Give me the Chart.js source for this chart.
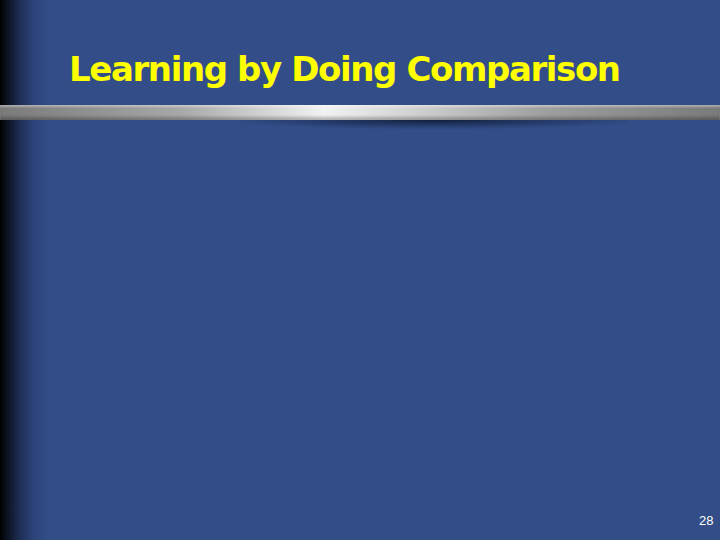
<!DOCTYPE html>
<html>
<head>
<meta charset="utf-8">
<script src="https://cdn.jsdelivr.net/npm/chart.js@4"></script>
<style>
  html, body { margin: 0; padding: 0; }
  body { width: 720px; height: 540px; overflow: hidden; position: relative; background: #324d87; font-family: "DejaVu Sans", sans-serif; }
  .edge { position: absolute; left: 0; top: 0; width: 48px; height: 540px;
    background: linear-gradient(to right, #000 0px, #0d1424 8px, #1e2f55 20px, #2c447a 34px, #324d87 48px); }
  .title { position: absolute; left: 69px; top: 52px; color: #ffff00; font-weight: bold; font-size: 34px; line-height: 34px; white-space: nowrap; letter-spacing: -1.4px; }
  .bar { position: absolute; left: 0; top: 105px; width: 720px; height: 15px;
    background: linear-gradient(to right, #7a7a7a 0%, #a8a8a8 25%, #f2f2f2 45%, #d8d8d8 55%, #a0a0a0 75%, #7a7a7a 100%);
    box-shadow: inset 0 2px 2px rgba(255,255,255,0.35), inset 0 -3px 3px rgba(0,0,0,0.25); }
  .shadow { position: absolute; left: 240px; top: 120px; width: 390px; height: 9px;
    background: radial-gradient(ellipse at 50% 0%, rgba(10,20,40,0.8) 0%, rgba(20,35,70,0.4) 45%, rgba(50,77,135,0) 75%); }
  .page { position: absolute; left: 699px; top: 514px; color: #fff; font-size: 13px; line-height: 13px; font-family: "Liberation Sans", sans-serif; }
  .chartBox { position: absolute; left: 60px; top: 140px; width: 620px; height: 360px; }
</style>
</head>
<body>
<div class="edge"></div>
<div class="title">Learning by Doing Comparison</div>
<div class="bar"></div>
<div class="shadow"></div>
<div class="chartBox"><canvas id="chart"></canvas></div>
<div class="page">28</div>
<script>
// the slide shows no plotted data, so the series stay empty
const categories = []
const values = []

const ctx = document.getElementById('chart').getContext('2d')
new Chart(ctx, {
  type: 'bar',
  data: {
    labels: categories,
    datasets: [{ data: values, backgroundColor: 'rgba(255,255,0,0.8)' }]
  },
  options: {
    responsive: true,
    maintainAspectRatio: false,
    animation: false,
    events: [],
    plugins: { legend: { display: false }, tooltip: { enabled: false } },
    scales: { x: { display: false }, y: { display: false } }
  }
})
</script>
</body>
</html>
